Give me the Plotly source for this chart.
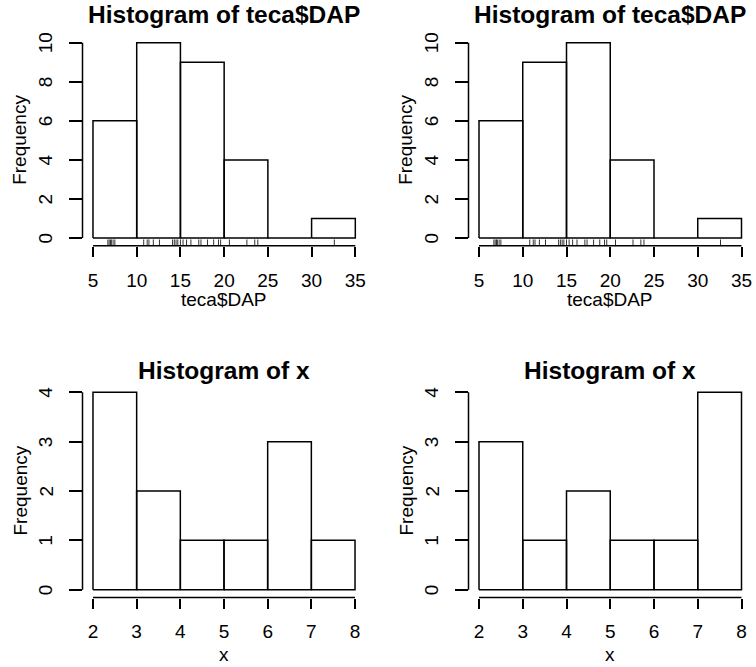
import plotly.graph_objects as go

W, H = 756, 667

# ---- data -------------------------------------------------------------
dap_breaks = [5, 10, 15, 20, 25, 30, 35]
dap_counts_a = [6, 10, 9, 4, 0, 1]      # right-closed bins
dap_counts_b = [6, 9, 10, 4, 0, 1]      # left-closed bins
dap_values = [6.7, 6.85, 7.0, 7.1, 7.3, 7.5,
              10.8, 11.2, 11.4, 11.9, 12.6, 14.1, 14.3, 14.5, 14.7, 15.0,
              15.3, 15.7, 16.2, 17.1, 17.35, 18.1, 18.8, 19.35, 19.6,
              20.6, 22.6, 23.5, 23.85,
              32.6]
dap_xticks = [5, 10, 15, 20, 25, 30, 35]
dap_yticks = [0, 2, 4, 6, 8, 10]

x_breaks = [2, 3, 4, 5, 6, 7, 8]
x_counts_a = [4, 2, 1, 1, 3, 1]
x_counts_b = [3, 1, 2, 1, 1, 4]
x_xticks = [2, 3, 4, 5, 6, 7, 8]
x_yticks = [0, 1, 2, 3, 4]

# ---- layout of the four panels (plot-region boxes in pixels) ----------
panels = [
    dict(box=(82.5, 34.9, 365.8, 245.8), breaks=dap_breaks, counts=dap_counts_a,
         rug=dap_values, xticks=dap_xticks, yticks=dap_yticks,
         title="Histogram of teca$DAP", xlab="teca$DAP", title_y=15, xlab_off=54),
    dict(box=(468.5, 34.9, 752.0, 245.8), breaks=dap_breaks, counts=dap_counts_b,
         rug=dap_values, xticks=dap_xticks, yticks=dap_yticks,
         title="Histogram of teca$DAP", xlab="teca$DAP", title_y=15, xlab_off=54),
    dict(box=(82.5, 384.4, 365.5, 597.6), breaks=x_breaks, counts=x_counts_a,
         rug=None, xticks=x_xticks, yticks=x_yticks,
         title="Histogram of x", xlab="x", title_y=370, xlab_off=57),
    dict(box=(468.5, 384.4, 752.0, 597.6), breaks=x_breaks, counts=x_counts_b,
         rug=None, xticks=x_xticks, yticks=x_yticks,
         title="Histogram of x", xlab="x", title_y=370, xlab_off=57),
]

FONT = "Liberation Sans, Arial, Helvetica, sans-serif"
TICK_SIZE = 19
LAB_SIZE = 19
TITLE_SIZE = 24.5
LW = 1.5

fig = go.Figure()
shapes = []
annotations = []


def px_x(p):
    return p / W


def px_y(p):
    return 1 - p / H


for i, pnl in enumerate(panels, start=1):
    left, top, right, bottom = pnl["box"]
    xa = "xaxis" if i == 1 else f"xaxis{i}"
    ya = "yaxis" if i == 1 else f"yaxis{i}"
    xr = "x" if i == 1 else f"x{i}"
    yr = "y" if i == 1 else f"y{i}"

    br = pnl["breaks"]
    cnt = pnl["counts"]
    # R-style 4% extension of the data ranges
    xlo, xhi = br[0], br[-1]
    ylo, yhi = 0, max(cnt)
    dx = 0.04 * (xhi - xlo)
    dy = 0.04 * (yhi - ylo)
    xrange_ = [xlo - dx, xhi + dx]
    yrange_ = [ylo - dy, yhi + dy]

    # histogram rectangles (zero-height bins collapse to a line on the baseline)
    bx, by = [], []
    for k, c in enumerate(cnt):
        l, r = br[k], br[k + 1]
        bx += [l, l, r, r, l, None]
        by += [0, c, c, 0, 0, None]
    fig.add_trace(go.Scatter(x=bx, y=by, mode="lines", xaxis=xr, yaxis=yr,
                             line=dict(color="black", width=LW),
                             hoverinfo="skip", showlegend=False))

    # rug along the bottom edge
    if pnl["rug"]:
        rlen = 0.03 * (yrange_[1] - yrange_[0])
        rx, ry = [], []
        for v in pnl["rug"]:
            rx += [v, v, None]
            ry += [yrange_[0], yrange_[0] + rlen, None]
        fig.add_trace(go.Scatter(x=rx, y=ry, mode="lines", xaxis=xr, yaxis=yr,
                                 line=dict(color="#333333", width=1),
                                 hoverinfo="skip", showlegend=False))

    xdom = [px_x(left), px_x(right)]
    ydom = [px_y(bottom), px_y(top)]

    fig.layout[xa] = dict(
        domain=xdom, range=xrange_, anchor=yr, showgrid=False, zeroline=False,
        showline=False, ticks="outside", ticklen=10, tickwidth=LW, tickcolor="black",
        tickmode="array", tickvals=pnl["xticks"],
        ticktext=[str(t) for t in pnl["xticks"]],
        tickfont=dict(family=FONT, size=TICK_SIZE, color="black"),
        ticklabelstandoff=7, fixedrange=True,
    )
    fig.layout[ya] = dict(
        domain=ydom, range=yrange_, anchor=xr, showgrid=False, zeroline=False,
        showline=False, ticks="outside", ticklen=13, tickwidth=LW, tickcolor="black",
        tickmode="array", tickvals=pnl["yticks"], showticklabels=False,
        fixedrange=True,
    )

    # vertical (rotated) y tick labels, one per tick value
    for t in pnl["yticks"]:
        annotations.append(dict(text=str(t), xref="paper", yref=yr,
                                x=px_x(left - 37), y=t, xanchor="center",
                                yanchor="middle", textangle=-90, showarrow=False,
                                font=dict(family=FONT, size=TICK_SIZE, color="black")))

    # axis lines spanning first to last tick, drawn on the region edges
    shapes.append(dict(type="line", xref=xr, yref="paper",
                       x0=pnl["xticks"][0], x1=pnl["xticks"][-1],
                       y0=ydom[0], y1=ydom[0],
                       line=dict(color="black", width=LW)))
    shapes.append(dict(type="line", xref="paper", yref=yr,
                       x0=xdom[0], x1=xdom[0],
                       y0=pnl["yticks"][0], y1=pnl["yticks"][-1],
                       line=dict(color="black", width=LW)))

    cx = (left + right) / 2
    cy = (top + bottom) / 2
    annotations.append(dict(text=f"<b>{pnl['title']}</b>", xref="paper", yref="paper",
                            x=px_x(cx), y=px_y(pnl["title_y"]), xanchor="center",
                            yanchor="middle", showarrow=False,
                            font=dict(family=FONT, size=TITLE_SIZE, color="black")))
    annotations.append(dict(text=pnl["xlab"], xref="paper", yref="paper",
                            x=px_x(cx), y=px_y(bottom + pnl["xlab_off"]), xanchor="center",
                            yanchor="middle", showarrow=False,
                            font=dict(family=FONT, size=LAB_SIZE, color="black")))
    annotations.append(dict(text="Frequency", xref="paper", yref="paper",
                            x=px_x(left - 63), y=px_y(cy), xanchor="center",
                            yanchor="middle", textangle=-90, showarrow=False,
                            font=dict(family=FONT, size=LAB_SIZE, color="black")))

fig.update_layout(
    width=W, height=H, margin=dict(l=0, r=0, t=0, b=0),
    paper_bgcolor="white", plot_bgcolor="white",
    shapes=shapes, annotations=annotations, showlegend=False,
)

fig.write_html("out.html", config=dict(displayModeBar=False))
